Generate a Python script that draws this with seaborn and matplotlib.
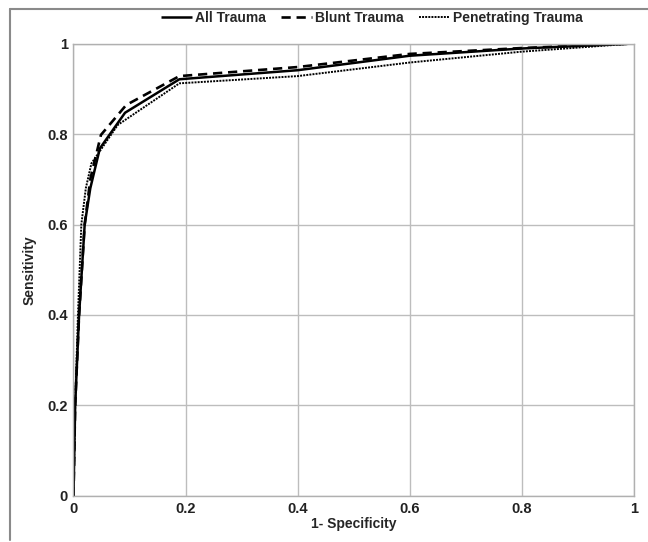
import numpy as np
import pandas as pd
import matplotlib
matplotlib.use('Agg')
import matplotlib.pyplot as plt
import seaborn as sns
from matplotlib.lines import Line2D

# ROC points (1-specificity, sensitivity)
all_fpr = [0.0, 0.003, 0.010, 0.020, 0.030, 0.047, 0.092, 0.189, 0.4, 0.6, 0.8, 1.0]
all_tpr = [0.0, 0.20, 0.40, 0.60, 0.68, 0.768, 0.847, 0.921, 0.941, 0.973, 0.989, 1.0]

blunt_fpr = [0.0, 0.003, 0.010, 0.020, 0.030, 0.049, 0.094, 0.189, 0.4, 0.6, 0.8, 1.0]
blunt_tpr = [0.0, 0.20, 0.40, 0.60, 0.70, 0.798, 0.864, 0.928, 0.948, 0.977, 0.990, 1.0]

pen_fpr = [0.0, 0.003, 0.008, 0.014, 0.022, 0.032, 0.079, 0.189, 0.4, 0.6, 0.8, 1.0]
pen_tpr = [0.0, 0.20, 0.40, 0.60, 0.68, 0.735, 0.82, 0.912, 0.928, 0.958, 0.982, 1.0]

series_names = ['All Trauma', 'Blunt Trauma', 'Penetrating Trauma']
ticks = [0, 0.2, 0.4, 0.6, 0.8, 1]
tick_labels = ['0', '0.2', '0.4', '0.6', '0.8', '1']

df = pd.concat([
    pd.DataFrame({'fpr': all_fpr, 'tpr': all_tpr, 'group': series_names[0]}),
    pd.DataFrame({'fpr': blunt_fpr, 'tpr': blunt_tpr, 'group': series_names[1]}),
    pd.DataFrame({'fpr': pen_fpr, 'tpr': pen_tpr, 'group': series_names[2]}),
])

sns.set_style('white')
plt.rcParams['font.family'] = ['Liberation Sans', 'DejaVu Sans']

fig = plt.figure(figsize=(6.48, 5.42), dpi=100)
ax = fig.add_axes([0.1134, 0.0849, 0.8646, 0.8348])

styles = {'All Trauma': (0, ()), 'Blunt Trauma': (0, (3.5, 2.2)), 'Penetrating Trauma': (0, (1, 0.6))}
widths = {'All Trauma': 1.8, 'Blunt Trauma': 1.9, 'Penetrating Trauma': 1.4}
for name in series_names:
    sub = df[df['group'] == name]
    sns.lineplot(data=sub, x='fpr', y='tpr', sort=False, estimator=None, ax=ax,
                 color='black', linestyle=styles[name], linewidth=widths[name], label=name)

ax.set_xlim(0, 1)
ax.set_ylim(0, 1)
ax.set_xticks(ticks)
ax.set_yticks(ticks)
ax.set_xticklabels(tick_labels, fontsize=10.5, fontweight='bold', color='#222222')
ax.set_yticklabels(tick_labels, fontsize=10.5, fontweight='bold', color='#222222')
ax.tick_params(axis='both', length=3, color='#b0b0b0', pad=1)
ax.grid(True, color='#bdbdbd', linewidth=1)
for s in ax.spines.values():
    s.set_color('#b0b0b0')
    s.set_linewidth(1)

ax.set_xlabel('1- Specificity', fontsize=10, fontweight='bold', labelpad=1)
ax.set_ylabel('Sensitivity', fontsize=10, fontweight='bold', labelpad=8)

ax.legend(loc='center', bbox_to_anchor=(0.574, 0.967), bbox_transform=fig.transFigure,
          ncol=3, frameon=False, handlelength=2.2, handletextpad=0.25, columnspacing=1.1,
          prop={'size': 10, 'weight': 'bold'})

# outer chart frame (top and left edges)
fig.add_artist(Line2D([0.016, 1.0], [0.983, 0.983], color='#8a8a8a', linewidth=1.5))
fig.add_artist(Line2D([0.016, 0.016], [0.003, 0.983], color='#8a8a8a', linewidth=1.5))

fig.savefig('out.png', dpi=100)
